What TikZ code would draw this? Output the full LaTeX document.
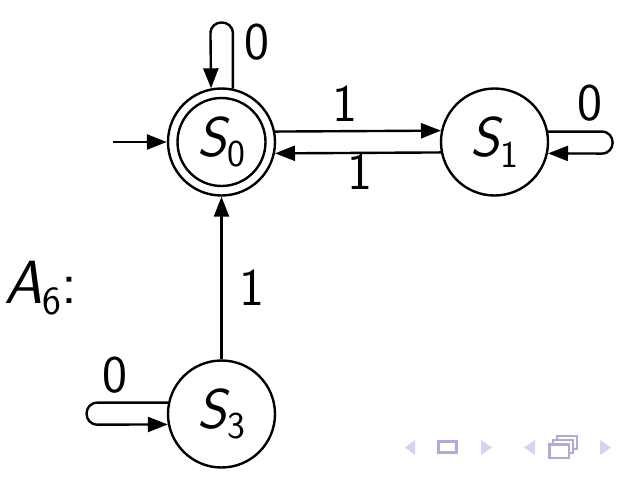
\documentclass[tikz,border=0pt]{standalone}
\usepackage{fontspec}
\usetikzlibrary{arrows.meta}
\definecolor{navlight}{RGB}{212,212,238}
\definecolor{navdark}{RGB}{172,172,222}
\newcommand{\stname}[1]{{\itshape S}\raisebox{-0.19em}{\fontsize{38}{38}\selectfont #1}}
\tikzset{
  state/.style={circle, draw, line width=2.4pt, minimum size=107pt, inner sep=0pt,
    font=\fontsize{56}{60}\selectfont\sffamily},
  lab/.style={inner sep=0pt, text depth=0pt, font=\fontsize{53}{60}\selectfont\sffamily},
  edge/.style={line width=2.4pt, -{Triangle[length=20pt,width=15pt]}},
  navtri/.style={fill=navlight, draw=none},
  navbox/.style={draw=navdark, line width=2.2pt},
}
\begin{document}
\begin{tikzpicture}[x=1pt,y=-1pt]
\useasboundingbox (0,0) rectangle (626,480);

\node[state] (S0) at (221.5,142) {\stname{0}};
\draw[line width=2.4pt] (S0.center) circle[radius=44pt];
\node[state] (S1) at (494.5,142) {\stname{1}};
\node[state] (S3) at (221.5,414) {\stname{3}};

\coordinate (init) at (113,142);
\draw[edge] (init) -- (S0);

% self loop on S0
\draw[edge] (S0.78.3) -- ++(0,-55) .. controls +(0,-14.7) and +(0,-14.7) .. ++(-22.4,0) -- (S0.101.7);
\node[lab] (l0) at (257,42) {0};

% S0 <-> S1
\draw[edge] (S0.11.5) -- (S1.168.5);
\node[lab] (l1) at (345,104) {1};
\draw[edge] (S1.191.5) -- (S0.348.5);
\node[lab] (l2) at (360,172) {1};

% self loop on S1
\draw[edge] (S1.11.5) -- ++(53.4,0) .. controls +(14.7,0) and +(14.7,0) .. ++(0,22) -- (S1.348.5);
\node[lab] (l3) at (590,103) {0};

% S3 -> S0
\draw[edge] (S3.north) -- (S0.south);
\node[lab] (l4) at (252,288) {1};

% self loop on S3
\draw[edge] (S3.168.5) -- ++(-70.4,0) .. controls +(-14.7,0) and +(-14.7,0) .. ++(0,22) -- (S3.191.5);
\node[lab] (l5) at (115,375) {0};

% A_6:
\node[inner sep=0pt, anchor=base west, font=\fontsize{61}{70}\selectfont\sffamily] (A6) at (4,303)
  {{\itshape A}\raisebox{-0.19em}{\fontsize{40}{40}\selectfont 6}:};

% navigation symbols
\fill[navtri] (415,440) -- (405,447.5) -- (415,455) -- cycle;
\draw[navbox] (438.5,441.5) rectangle (456.5,452.5);
\fill[navtri] (481,440) -- (492,447.5) -- (481,455) -- cycle;
\fill[navtri] (535,440) -- (524,447.5) -- (535,455) -- cycle;
\draw[navbox, fill=white] (557,436) rectangle (577,449);
\draw[navbox, fill=white] (553,440) rectangle (573,453);
\draw[navbox, fill=white] (549.5,444.5) rectangle (569,458);
\fill[navtri] (600,440) -- (611,447.5) -- (600,455) -- cycle;
\end{tikzpicture}
\end{document}
